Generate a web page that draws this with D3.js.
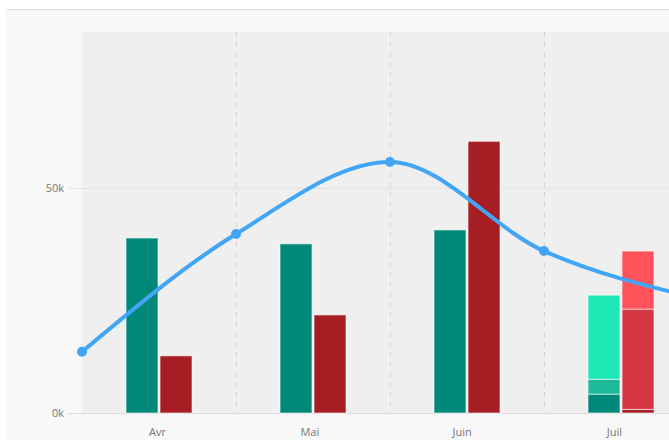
<!DOCTYPE html>
<html>
<head>
<meta charset="utf-8">
<script src="https://cdn.jsdelivr.net/npm/d3@7"></script>
<style>
  body { margin: 0; background: #fff; font-family: "Open Sans", "Noto Sans", sans-serif; }
  svg { display: block; }
</style>
</head>
<body>
<script>
var months = ["Avr", "Mai", "Juin", "Juil"];
var yTicks = [0, 50];

// green stack (k)
var greenA = [38.9, 37.6, 40.7, 4.2];
var greenB = [0, 0, 0, 3.3];
var greenC = [0, 0, 0, 18.7];
// red stack (k)
var redA = [12.7, 21.8, 60.4, 0.8];
var redB = [0, 0, 0, 22.3];
var redC = [0, 0, 0, 12.9];

// line, one value per month boundary
var lineValues = [13.6, 39.8, 55.8, 36.0, 25.5];

var greenColors = ["#00897b", "#1cb99a", "#1de9b6"];
var redColors = ["#a61d24", "#d63842", "#ff525b"];

var w = 669;
var h = 440;

var svg = d3.select("body")
  .append("svg")
  .attr("width", w)
  .attr("height", h);

// panel
svg.append("rect")
  .attr("x", 6).attr("y", 10)
  .attr("width", w - 6).attr("height", h - 10)
  .attr("fill", "#f8f8f8");
svg.append("line")
  .attr("x1", 6).attr("x2", w)
  .attr("y1", 9.5).attr("y2", 9.5)
  .attr("stroke", "#dcdcdc");

var plotLeft = 82, plotTop = 32, plotBottom = 413;

var xScale = d3.scaleBand()
  .domain(months)
  .range([plotLeft, plotLeft + 154 * months.length]);

// labels sit slightly tighter than the bands
var xLabel = d3.scalePoint()
  .domain(months)
  .range([157.5, 614.5]);

var yScale = d3.scaleLinear()
  .domain([0, 84.7])
  .range([plotBottom, plotTop]);

var xLine = d3.scaleLinear()
  .domain([0, lineValues.length - 1])
  .range([plotLeft, plotLeft + 154 * (lineValues.length - 1)]);

svg.append("rect")
  .attr("x", plotLeft).attr("y", plotTop)
  .attr("width", w - plotLeft).attr("height", plotBottom - plotTop)
  .attr("fill", "#efefef");

// dashed separators
svg.selectAll("line.sep")
  .data(months.slice(1))
  .enter()
  .append("line")
  .attr("class", "sep")
  .attr("x1", function (d) { return Math.round(xScale(d)) + 0.5; })
  .attr("x2", function (d) { return Math.round(xScale(d)) + 0.5; })
  .attr("y1", plotTop).attr("y2", plotBottom)
  .attr("stroke", "#d6d6d6")
  .attr("stroke-dasharray", "5,5");

// horizontal grid + y labels
svg.selectAll("line.grid")
  .data(yTicks)
  .enter()
  .append("line")
  .attr("class", "grid")
  .attr("x1", 68).attr("x2", w)
  .attr("y1", function (d) { return Math.round(yScale(d)) + 0.5; })
  .attr("y2", function (d) { return Math.round(yScale(d)) + 0.5; })
  .attr("stroke", function (d) { return d === 0 ? "#dcdcdc" : "#e4e4e4"; });

svg.selectAll("text.ylab")
  .data(yTicks)
  .enter()
  .append("text")
  .attr("class", "ylab")
  .attr("x", 64)
  .attr("y", function (d) { return yScale(d); })
  .attr("dy", "0.35em")
  .attr("text-anchor", "end")
  .attr("font-size", 11)
  .attr("fill", "#777")
  .text(function (d) { return d + "k"; });

svg.selectAll("text.xlab")
  .data(months)
  .enter()
  .append("text")
  .attr("class", "xlab")
  .attr("x", function (d) { return xLabel(d); })
  .attr("y", 436)
  .attr("text-anchor", "middle")
  .attr("font-size", 11)
  .attr("fill", "#777")
  .text(function (d) { return d; });

// bars
var x1 = d3.scaleBand()
  .domain(["g", "r"])
  .range([xScale.bandwidth() / 2 - 33, xScale.bandwidth() / 2 + 33])
  .paddingInner(0.06);

function stackRows(a, b, c) {
  return months.map(function (m, i) {
    return { month: m, a: a[i], b: b[i], c: c[i] };
  });
}

var stack = d3.stack().keys(["a", "b", "c"]);

function drawStack(rows, key, colors) {
  var layers = stack(rows);
  svg.append("g")
    .selectAll("g")
    .data(layers)
    .enter()
    .append("g")
    .attr("fill", function (d, i) { return colors[i]; })
    .selectAll("rect")
    .data(function (d) { return d.filter(function (s) { return s[1] - s[0] > 0; }); })
    .enter()
    .append("rect")
    .attr("x", function (d) { return xScale(d.data.month) + x1(key); })
    .attr("width", x1.bandwidth())
    .attr("y", function (d) { return yScale(d[1]); })
    .attr("height", function (d) { return yScale(d[0]) - yScale(d[1]); })
    .attr("stroke", "#ffffff")
    .attr("stroke-opacity", 0.6)
    .attr("stroke-width", 1);
}

drawStack(stackRows(greenA, greenB, greenC), "g", greenColors);
drawStack(stackRows(redA, redB, redC), "r", redColors);

// line
var line = d3.line()
  .x(function (d, i) { return xLine(i); })
  .y(function (d) { return yScale(d); })
  .curve(d3.curveMonotoneX);

svg.append("path")
  .datum(lineValues)
  .attr("d", line)
  .attr("fill", "none")
  .attr("stroke", "#42a5f5")
  .attr("stroke-width", 4);

svg.selectAll("circle")
  .data(lineValues)
  .enter()
  .append("circle")
  .attr("cx", function (d, i) { return xLine(i); })
  .attr("cy", function (d) { return yScale(d); })
  .attr("r", 5)
  .attr("fill", "#42a5f5");
</script>
</body>
</html>
